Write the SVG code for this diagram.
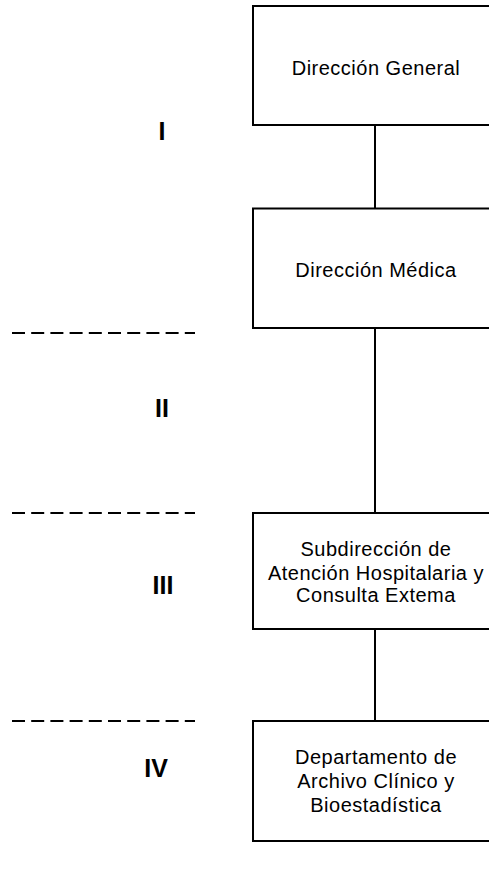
<svg xmlns="http://www.w3.org/2000/svg" width="489" height="870" viewBox="0 0 489 870">
<style>
.box{fill:#fff;stroke:#000;stroke-width:2}
.t{font-family:"Liberation Sans",Arial,sans-serif;font-size:20px;letter-spacing:0.5px;fill:#000;text-anchor:middle}
.lvl{font-family:"Liberation Sans",Arial,sans-serif;font-size:25px;font-weight:bold;fill:#000;text-anchor:middle}
.dash{stroke:#000;stroke-width:2;stroke-dasharray:13 6.2;fill:none}
.conn{stroke:#000;stroke-width:2;fill:none}
</style>
<rect width="489" height="870" fill="#fff"/>
<g id="levels">
<line class="dash" x1="12" y1="333" x2="195" y2="333"/>
<line class="dash" x1="12" y1="513" x2="195" y2="513"/>
<line class="dash" x1="12" y1="721" x2="195" y2="721"/>
<text class="lvl" x="162" y="140">I</text>
<text class="lvl" x="162" y="417">II</text>
<text class="lvl" x="163" y="594">III</text>
<text class="lvl" x="156" y="777">IV</text>
</g>
<g id="connectors">
<line class="conn" x1="375" y1="125" x2="375" y2="208"/>
<line class="conn" x1="375" y1="328" x2="375" y2="513"/>
<line class="conn" x1="375" y1="629" x2="375" y2="721"/>
</g>
<g id="n1">
<rect class="box" x="253" y="6" width="246" height="119"/>
<text class="t" x="376" y="75">Dirección General</text>
</g>
<g id="n2">
<rect class="box" x="253" y="208.5" width="246" height="119.5"/>
<text class="t" x="376" y="277">Dirección Médica</text>
</g>
<g id="n3">
<rect class="box" x="253" y="513" width="246" height="116"/>
<text class="t" x="376" y="556">Subdirección de</text>
<text class="t" x="376" y="580">Atención Hospitalaria y</text>
<text class="t" x="376" y="602">Consulta Extema</text>
</g>
<g id="n4">
<rect class="box" x="253" y="721" width="246" height="120"/>
<text class="t" x="376" y="764">Departamento de</text>
<text class="t" x="376" y="788">Archivo Clínico y</text>
<text class="t" x="376" y="812">Bioestadística</text>
</g>
</svg>
